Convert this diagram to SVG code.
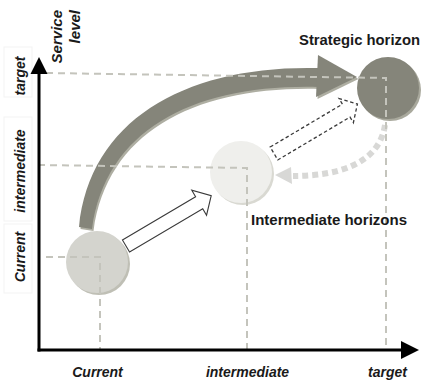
<svg xmlns="http://www.w3.org/2000/svg" width="423" height="381" viewBox="0 0 423 381">
<style>
.lbl{font-family:"Liberation Sans",Arial,sans-serif;font-weight:bold;font-style:italic;font-size:14px;fill:#1a1a1a}
.ttl{font-family:"Liberation Sans",Arial,sans-serif;font-weight:bold;font-size:15px;fill:#1a1a1a}
.guide{fill:none;stroke:#c4c4bc;stroke-width:2;stroke-dasharray:7 5}
.box{fill:none;stroke:#f3f3f3;stroke-width:1}
.shadow{fill:#aeaea2}
</style>
<rect width="423" height="381" fill="#ffffff"/>

<g id="label-boxes">
<rect class="box" x="4" y="47" width="28" height="50"/>
<rect class="box" x="4" y="117" width="28" height="104"/>
<rect class="box" x="4" y="224" width="28" height="69"/>
</g>

<g id="connectors">
<g id="strategic-path">
<path class="shadow" d="M80.5,229 C91.5,120 189.5,67 319.5,70 L319.5,89 C197.5,86 107.5,130 93.5,231 Z"/>
<polygon class="shadow" points="319.5,57 358.5,79 317.5,99"/>
<path fill="#85857a" d="M79,227 C90,118 188,65 318,68 L318,87 C196,84 106,128 92,229 Z"/>
<polygon fill="#85857a" points="318,55 357,77 316,97"/>
</g>
<g id="current-to-intermediate" transform="translate(126,246) rotate(-30.6)">
<polygon points="0,-7 85,-7 85,-14.5 99,0 85,14.5 85,7 0,7" fill="#ffffff" stroke="#3a3a3a" stroke-width="1.1"/>
</g>
<g id="intermediate-to-strategic" transform="translate(274,153.5) rotate(-30.7)">
<polygon points="0,-7.5 84,-7.5 84,-14 97,0 84,14 84,7.5 0,7.5" fill="none" stroke="#3a3a3a" stroke-width="1.3" stroke-dasharray="3.5 2.5"/>
</g>
<g id="strategic-to-intermediate">
<path d="M385,125 C379,165 336,176 293,176" fill="none" stroke="#d8d8d6" stroke-width="6" stroke-dasharray="6 4"/>
<polygon points="275,175 291,167 292,184" fill="#d8d8d6"/>
</g>
</g>

<g id="node-current">
<circle cx="99" cy="264" r="31" fill="#bfbfb5"/>
<circle cx="97" cy="262" r="31" fill="#d4d4ce"/>
</g>
<g id="node-intermediate">
<circle cx="243" cy="174" r="31" fill="#d9d9d2"/>
<circle cx="241" cy="172" r="31" fill="#efefec"/>
</g>
<g id="node-strategic">
<circle cx="390" cy="90" r="31" fill="#a9a99d"/>
<circle cx="388" cy="88" r="31" fill="#85857a"/>
</g>

<g id="guides">
<polyline class="guide" points="46,73 386,78 386,350"/>
<polyline class="guide" points="38,165 247,168 247,350"/>
<polyline class="guide" points="46,257 100,257 100,350"/>
</g>

<g id="axes">
<line x1="39" y1="351.5" x2="39" y2="72" stroke="#000" stroke-width="3"/>
<polygon points="39,57 30.5,74 47.5,74" fill="#000"/>
<line x1="37.5" y1="350" x2="403" y2="350" stroke="#000" stroke-width="3"/>
<polygon points="419,350 401,341 401,359" fill="#000"/>
</g>

<g id="axis-labels">
<text class="lbl" transform="translate(25,76) rotate(-90)" text-anchor="middle">target</text>
<text class="lbl" transform="translate(25,171) rotate(-90)" text-anchor="middle">intermediate</text>
<text class="lbl" transform="translate(25,257) rotate(-90)" text-anchor="middle">Current</text>
<text class="lbl" x="97.5" y="377" text-anchor="middle">Current</text>
<text class="lbl" x="247.5" y="377" text-anchor="middle">intermediate</text>
<text class="lbl" x="387.5" y="377" text-anchor="middle">target</text>
<text class="lbl" style="font-size:15px" transform="translate(62,10) rotate(-90)" text-anchor="end">Service</text>
<text class="lbl" style="font-size:15px" transform="translate(80,10) rotate(-90)" text-anchor="end">level</text>
</g>

<g id="titles">
<text class="ttl" x="299" y="45" textLength="121" lengthAdjust="spacingAndGlyphs">Strategic horizon</text>
<text class="ttl" x="251" y="225" textLength="156" lengthAdjust="spacingAndGlyphs">Intermediate horizons</text>
</g>
</svg>
